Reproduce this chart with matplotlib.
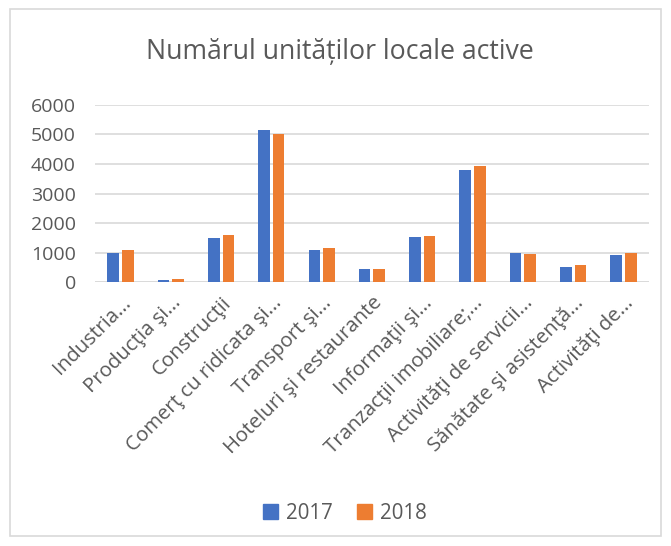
import matplotlib
matplotlib.use("Agg")
import matplotlib.pyplot as plt
import matplotlib.transforms as mtransforms
import numpy as np
from matplotlib.patches import Rectangle, Patch

categories = ["Industria...", "Producţia şi...", "Construcţii", "Comerţ cu ridicata şi...",
              "Transport şi...", "Hoteluri şi restaurante", "Informaţii şi...",
              "Tranzacţii imobiliare;...", "Activităţi de servicii...",
              "Sănătate şi asistenţă...", "Activităţi de..."]
series_2017 = [1000, 70, 1490, 5140, 1085, 425, 1515, 3810, 975, 525, 930]
series_2018 = [1075, 90, 1585, 5030, 1150, 430, 1560, 3920, 965, 590, 975]
years = ["2017", "2018"]
yticks = [0, 1000, 2000, 3000, 4000, 5000, 6000]

plt.rcParams['font.family'] = ['Open Sans', 'DejaVu Sans']
txt = '#595959'
blue = '#4472C4'
orange = '#ED7D31'

fig = plt.figure(figsize=(6.71, 5.46), dpi=100)
ax = fig.add_axes([0.142, 0.4835, 0.8246, 0.3242])

x = np.arange(len(categories))
w = 0.23
g = 0.03
ax.bar(x - w/2 - g, series_2017, width=w, color=blue, zorder=3, label=years[0])
ax.bar(x + w/2 + g, series_2018, width=w, color=orange, zorder=3, label=years[1])

ax.set_xlim(-0.5, len(categories) - 0.5)
ax.set_ylim(0, 6000)
ax.set_yticks(yticks)
ax.set_yticklabels([str(v) for v in yticks], fontsize=14, color=txt)
ax.grid(axis='y', color='#D9D9D9', linewidth=1.2, zorder=0)
ax.set_xticks(x)
ax.set_xticklabels(categories, rotation=45, ha='right', rotation_mode='anchor',
                   fontsize=14.7, color=txt)
offset = mtransforms.ScaledTranslation(14/100, 0, fig.dpi_scale_trans)
for lab in ax.get_xticklabels():
    lab.set_transform(lab.get_transform() + offset)
ax.tick_params(axis='both', length=0)
ax.tick_params(axis='y', pad=14)
ax.tick_params(axis='x', pad=8)
for s in ax.spines.values():
    s.set_visible(False)
ax.axhline(0, color='#D9D9D9', linewidth=1.2, zorder=1)

fig.text(0.507, 0.905, "Numărul unităților locale active", ha='center', va='center',
         fontsize=19.2, color=txt)

handles = [Patch(color=blue), Patch(color=orange)]
fig.legend(handles, years, loc='center', bbox_to_anchor=(0.514, 0.06), ncol=2,
           frameon=False, fontsize=14.8, labelcolor=txt, handlelength=0.7,
           handleheight=0.7, handletextpad=0.4, columnspacing=1.2)

fig.patches.append(Rectangle((0.015, 0.018), 0.97, 0.965, transform=fig.transFigure,
                             fill=False, edgecolor='#D9D9D9', linewidth=1.2))

fig.savefig("out.png", dpi=100, facecolor='white')
